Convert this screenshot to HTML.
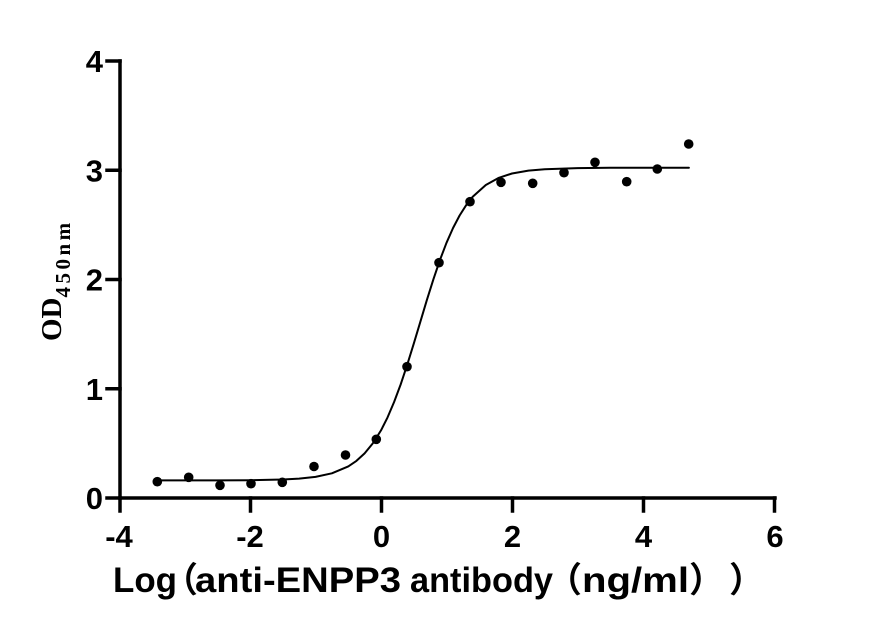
<!DOCTYPE html>
<html>
<head>
<meta charset="utf-8">
<style>
  html, body { margin: 0; padding: 0; background: #ffffff; }
  body { width: 875px; height: 633px; overflow: hidden; }
  svg { display: block; }
</style>
</head>
<body>
<svg width="875" height="633" viewBox="0 0 875 633" xmlns="http://www.w3.org/2000/svg">
  <rect x="0" y="0" width="875" height="633" fill="#ffffff"/>

  <!-- Axes -->
  <g stroke="#000" stroke-width="3.5" fill="none" stroke-linecap="square">
    <line x1="120" y1="61" x2="120" y2="498"/>
    <line x1="120" y1="498" x2="775" y2="498"/>
    <!-- y ticks -->
    <line x1="107" y1="61" x2="120" y2="61"/>
    <line x1="107" y1="170.25" x2="120" y2="170.25"/>
    <line x1="107" y1="279.5" x2="120" y2="279.5"/>
    <line x1="107" y1="388.75" x2="120" y2="388.75"/>
    <line x1="107" y1="498" x2="120" y2="498"/>
    <!-- x ticks -->
    <line x1="120" y1="498" x2="120" y2="511"/>
    <line x1="250.5" y1="498" x2="250.5" y2="511"/>
    <line x1="381.5" y1="498" x2="381.5" y2="511"/>
    <line x1="512.5" y1="498" x2="512.5" y2="511"/>
    <line x1="643.5" y1="498" x2="643.5" y2="511"/>
    <line x1="774.5" y1="498" x2="774.5" y2="511"/>
  </g>

  <!-- Y tick labels -->
  <g font-family="Liberation Sans, Arial, sans-serif" font-weight="bold" font-size="31" fill="#000" text-anchor="end">
    <text x="103" y="72">4</text>
    <text x="103" y="181.5">3</text>
    <text x="103" y="290.5">2</text>
    <text x="103" y="400">1</text>
    <text x="103" y="509">0</text>
  </g>

  <!-- X tick labels -->
  <g font-family="Liberation Sans, Arial, sans-serif" font-weight="bold" font-size="31" fill="#000" text-anchor="middle">
    <text x="119" y="547">-4</text>
    <text x="250" y="547">-2</text>
    <text x="381.5" y="547">0</text>
    <text x="512.5" y="547">2</text>
    <text x="643.5" y="547">4</text>
    <text x="775" y="547">6</text>
  </g>

  <!-- Fitted curve -->
  <polyline fill="none" stroke="#000" stroke-width="2" stroke-linejoin="round" stroke-linecap="round"
    points="157,480.4 184.5,480.4 217.25,480.35 250,480.2 282.75,479.5 299.1,478.6 315.5,476.85 331.9,473.3 348.25,466.4 356.4,460.9 364.6,453.4 372.8,443.4 381,430.4 387.55,417.4 394.1,402.0 400.65,384.5 407.2,364.8 413.75,343.7 420.3,321.9 426.85,300.1 433.4,279.3 439.95,260.0 446.5,242.8 453.05,228 459.6,215.5 466.15,205.2 472.7,196.8 485.8,185.0 498.9,177.8 512,173.5 528.4,170.6 544.75,169.2 577.5,168.1 610,167.8 643,167.7 688.9,167.7"/>

  <!-- Data points -->
  <g fill="#000">
    <circle cx="157.3" cy="481.7" r="4.8"/>
    <circle cx="188.7" cy="477.3" r="4.8"/>
    <circle cx="220" cy="485.3" r="4.8"/>
    <circle cx="251" cy="483.7" r="4.8"/>
    <circle cx="282.3" cy="482.3" r="4.8"/>
    <circle cx="314" cy="466.5" r="4.8"/>
    <circle cx="345.5" cy="455" r="4.8"/>
    <circle cx="376.3" cy="439.3" r="4.8"/>
    <circle cx="407" cy="366.7" r="4.8"/>
    <circle cx="439" cy="262.7" r="4.8"/>
    <circle cx="470" cy="201.7" r="4.8"/>
    <circle cx="501" cy="182.3" r="4.8"/>
    <circle cx="532.7" cy="183.3" r="4.8"/>
    <circle cx="564" cy="172.7" r="4.8"/>
    <circle cx="595" cy="162.3" r="4.8"/>
    <circle cx="626.7" cy="181.7" r="4.8"/>
    <circle cx="657.3" cy="169" r="4.8"/>
    <circle cx="688.7" cy="144" r="4.8"/>
  </g>

  <!-- Y axis title -->
  <text transform="translate(61,341) rotate(-90)" font-family="Liberation Serif, 'Times New Roman', serif" font-weight="bold" font-size="29" fill="#000">OD<tspan font-size="21" dy="9" letter-spacing="3.5">450nm</tspan></text>

  <!-- X axis title -->
  <g font-family="Liberation Sans, Arial, 'Noto Sans CJK SC', sans-serif" font-weight="bold" font-size="35" fill="#000">
    <text x="113" y="592" textLength="64" lengthAdjust="spacingAndGlyphs">Log</text>
    <text x="163" y="592" font-family="'Noto Sans CJK SC', 'WenQuanYi Zen Hei', sans-serif">（</text>
    <text x="195" y="592" textLength="206" lengthAdjust="spacingAndGlyphs">anti-ENPP3</text>
    <text x="410" y="592" textLength="143" lengthAdjust="spacingAndGlyphs">antibody</text>
    <text x="547" y="592" font-family="'Noto Sans CJK SC', 'WenQuanYi Zen Hei', sans-serif">（</text>
    <text x="582" y="592" textLength="107" lengthAdjust="spacingAndGlyphs">ng/ml</text>
    <text x="689" y="592" font-family="'Noto Sans CJK SC', 'WenQuanYi Zen Hei', sans-serif">）</text>
    <text x="729" y="592" font-family="'Noto Sans CJK SC', 'WenQuanYi Zen Hei', sans-serif">）</text>
  </g>
</svg>
</body>
</html>
